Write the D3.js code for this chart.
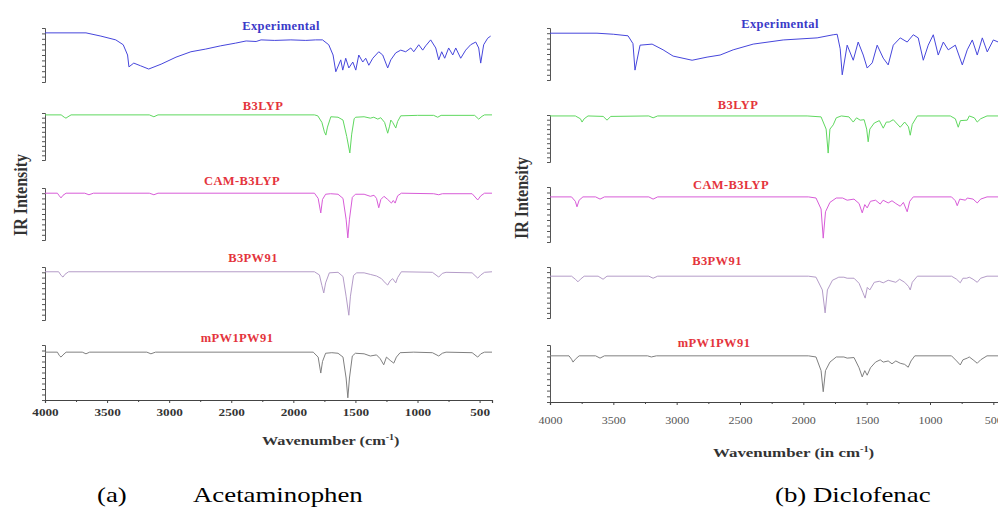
<!DOCTYPE html>
<html>
<head>
<meta charset="utf-8">
<script src="https://cdn.jsdelivr.net/npm/d3@7"></script>
<style>
  body { margin: 0; background: #fff; }
  svg { display: block; }
  text { font-family: "Liberation Serif", "Times New Roman", Tinos, Times, "DejaVu Serif", serif; }
</style>
</head>
<body>
<svg width="998" height="508"></svg>
<script>
// methods shown in each stacked panel (top to bottom)
var methods = ["Experimental", "B3LYP", "CAM-B3LYP", "B3PW91", "mPW1PW91"];
var xTicks = [4000, 3500, 3000, 2500, 2000, 1500, 1000, 500];
var xMinor = [3750, 3250, 2750, 2250, 1750, 1250, 750];
var xDomain = [4000, 400];

// (a) Acetaminophen, [wavenumber, relative intensity]
var acetExp = [[4000,91],[3670,91],[3550,85],[3430,78],[3370,69],[3335,50],[3324,28],[3285,35],[3230,30],[3165,24],[3065,33],[2945,46],[2825,56],[2705,61],[2585,67],[2465,72],[2380,76],[2300,75],[2260,78],[2150,77],[2020,78],[1900,77],[1820,78],[1765,78],[1715,69],[1680,50],[1658,19],[1618,41],[1602,22],[1578,44],[1553,26],[1521,37],[1497,22],[1473,50],[1441,37],[1417,44],[1392,31],[1360,44],[1312,56],[1280,50],[1240,26],[1215,41],[1175,54],[1135,59],[1095,56],[1054,63],[1030,56],[990,69],[958,59],[934,67],[894,78],[853,63],[829,41],[805,56],[781,44],[749,63],[716,50],[692,63],[652,44],[612,59],[572,69],[531,74],[507,63],[491,35],[467,69],[435,81],[411,85]];
var acetB3LYP = [[4000,96],[3870,96],[3845,91],[3831,89],[3815,92],[3790,96],[3160,96],[3123,92],[3090,96],[1830,96],[1803,94],[1770,80],[1750,60],[1738,53],[1725,70],[1698,92],[1640,91],[1600,85],[1570,50],[1545,15],[1530,55],[1510,88],[1497,91],[1430,92],[1380,89],[1352,91],[1320,87],[1296,90],[1265,80],[1240,57],[1225,72],[1215,85],[1200,80],[1175,68],[1160,82],[1135,94],[1000,95],[870,95],[837,91],[810,95],[540,95],[507,87],[480,93],[460,96],[400,96]];
var acetCAM = [[4000,90],[3900,90],[3885,85],[3871,81],[3855,86],[3830,90],[3680,90],[3646,87],[3610,90],[3160,90],[3123,87],[3090,90],[1830,90],[1800,80],[1779,52],[1765,78],[1740,88],[1700,89],[1640,88],[1600,80],[1575,40],[1561,4],[1548,40],[1525,82],[1500,88],[1430,88],[1380,84],[1350,86],[1330,80],[1312,62],[1295,78],[1270,84],[1240,78],[1210,71],[1195,76],[1180,71],[1160,85],[1130,90],[870,89],[829,87],[800,89],[560,89],[515,77],[490,85],[460,90],[400,90]];
var acetB3PW91 = [[4000,91],[3890,91],[3870,84],[3855,81],[3840,86],[3810,91],[1830,91],[1790,85],[1770,65],[1755,51],[1740,70],[1710,89],[1640,90],[1600,82],[1575,45],[1553,9],[1540,45],[1515,84],[1490,89],[1430,89],[1380,86],[1330,83],[1290,78],[1260,70],[1240,66],[1220,74],[1200,78],[1175,70],[1160,80],[1130,91],[880,90],[829,81],[800,88],[770,90],[560,89],[515,79],[490,85],[460,90],[400,91]];
var acetMPW = [[4000,87],[3900,87],[3885,81],[3871,78],[3855,82],[3830,87],[3700,87],[3670,84],[3640,87],[3180,87],[3147,84],[3110,87],[1840,87],[1800,78],[1779,49],[1765,70],[1740,85],[1690,86],[1640,85],[1600,78],[1575,40],[1561,4],[1548,40],[1525,80],[1500,85],[1430,84],[1380,80],[1330,82],[1300,75],[1272,64],[1250,78],[1220,72],[1191,67],[1170,78],[1140,86],[1030,87],[880,86],[829,80],[800,85],[770,87],[560,86],[515,78],[490,84],[460,87],[400,87]];

// (b) Diclofenac
var dicloExp = [[4000,90],[3629,90],[3500,88],[3384,85],[3345,70],[3329,19],[3289,67],[3194,69],[3107,58],[3028,46],[2878,38],[2760,44],[2657,48],[2554,58],[2396,69],[2159,77],[1891,81],[1764,87],[1733,88],[1709,60],[1693,10],[1654,67],[1606,38],[1567,73],[1527,48],[1496,23],[1456,33],[1417,67],[1369,42],[1330,29],[1290,67],[1235,81],[1180,73],[1132,87],[1093,81],[1053,38],[1014,67],[974,87],[935,48],[895,73],[856,58],[800,67],[745,29],[706,58],[666,77],[627,48],[587,81],[548,54],[500,77],[461,73],[420,77]];
var dicloB3LYP = [[4000,98],[3800,98],[3760,92],[3747,85],[3730,92],[3700,98],[3580,97],[3550,89],[3520,97],[3220,98],[3186,94],[3150,98],[1970,98],[1860,96],[1820,70],[1804,19],[1790,70],[1764,79],[1740,94],[1700,98],[1640,96],[1606,85],[1580,94],[1551,89],[1520,90],[1500,70],[1488,43],[1475,70],[1440,83],[1400,88],[1369,72],[1345,85],[1322,85],[1290,90],[1235,74],[1200,85],[1170,75],[1156,57],[1140,80],[1100,98],[840,98],[800,92],[777,74],[760,88],[706,89],[690,98],[650,94],[627,85],[600,92],[550,98],[400,98]];
var dicloCAM = [[4000,82],[3830,82],[3800,74],[3787,64],[3770,76],[3740,82],[3640,82],[3605,78],[3570,82],[3220,82],[3186,78],[3150,82],[1960,82],[1900,80],[1860,60],[1843,7],[1825,55],[1790,72],[1740,80],[1690,80],[1654,76],[1600,78],[1560,70],[1535,53],[1515,68],[1496,62],[1470,74],[1430,76],[1393,69],[1370,76],[1330,71],[1300,75],[1270,70],[1235,65],[1210,72],[1180,55],[1160,74],[1132,82],[830,82],[800,75],[785,66],[765,78],[720,76],[706,80],[660,78],[627,71],[600,78],[550,82],[400,82]];
var dicloB3PW91 = [[4000,82],[3830,82],[3800,76],[3779,71],[3760,76],[3730,82],[3620,82],[3581,76],[3550,82],[3220,82],[3186,78],[3150,82],[1960,82],[1900,80],[1850,55],[1828,10],[1810,55],[1770,74],[1720,80],[1680,80],[1654,78],[1600,78],[1560,68],[1530,50],[1512,39],[1495,60],[1475,55],[1440,70],[1400,72],[1369,69],[1330,74],[1300,72],[1270,70],[1240,76],[1200,70],[1170,62],[1156,55],[1140,70],[1100,82],[830,82],[790,76],[761,69],[740,78],[710,78],[690,80],[660,76],[627,70],[600,78],[550,82],[400,82]];
var dicloMPW = [[4000,81],[3850,81],[3830,75],[3818,70],[3800,75],[3770,81],[3640,81],[3605,77],[3570,81],[3230,81],[3200,79],[3160,81],[1960,81],[1900,79],[1860,55],[1843,18],[1825,55],[1790,70],[1740,79],[1680,79],[1654,77],[1600,78],[1560,60],[1535,44],[1515,55],[1496,47],[1470,60],[1430,70],[1393,74],[1369,70],[1330,72],[1300,67],[1270,72],[1235,68],[1200,66],[1172,61],[1150,72],[1120,81],[830,81],[790,72],[761,65],[740,74],[706,77],[690,79],[660,74],[627,68],[600,74],[550,81],[400,81]];

var lineColors = ["#4646dc", "#5fd85f", "#d85cd8", "#b49cc8", "#808080"];
var labelColors = ["#3a3ac8", "#e4343c", "#e4343c", "#e4343c", "#e4343c"];
var serif = "'Liberation Serif', 'Times New Roman', Tinos, Times, 'DejaVu Serif', serif";

var svg = d3.select("svg");

// the source figure is stretched sideways, so its text is wide too
function wideText(parent, x, y, sx) {
    return parent.append("text")
        .attr("transform", "translate(" + x + "," + y + ") scale(" + sx + ",1)")
        .attr("font-family", serif);
}

function drawPanel(p) {
    var x = d3.scaleLinear().domain(xDomain).range(p.xRange);
    var g = svg.append("g");

    p.series.forEach(function(data, i) {
        var band = p.bands[i];
        var y = d3.scaleLinear().domain([0, 100]).range([band[1], band[0]]);

        g.append("g")
            .attr("transform", "translate(" + p.xRange[0] + ",0)")
            .call(d3.axisLeft(y).ticks(10).tickSize(3).tickFormat(""))
            .call(function(a) {
                a.select(".domain").attr("stroke", "#555");
                a.selectAll(".tick line").attr("stroke", "#555");
            });

        var line = d3.line()
            .x(function(d) { return x(d[0]); })
            .y(function(d) { return y(d[1]); });

        g.append("path")
            .datum(data)
            .attr("d", line)
            .attr("fill", "none")
            .attr("stroke", lineColors[i])
            .attr("stroke-width", 1);

        g.append("text")
            .attr("x", p.labelX[i])
            .attr("y", p.labelY[i])
            .attr("text-anchor", "middle")
            .attr("font-family", serif)
            .attr("font-size", 12.5)
            .attr("font-weight", "bold")
            .attr("letter-spacing", 0.4)
            .attr("fill", labelColors[i])
            .text(methods[i]);
    });

    // wavenumber axis
    var xa = g.append("g")
        .attr("transform", "translate(0," + p.axisY + ")")
        .call(d3.axisBottom(x).tickValues(xTicks).tickSize(3).tickPadding(p.tickPad).tickFormat(d3.format("d")));
    xa.select(".domain").attr("stroke", "#444").attr("stroke-width", 1.2);
    xa.selectAll(".tick line").attr("stroke", "#444");
    xa.selectAll(".tick text")
        .attr("transform", "scale(1.2,1)")
        .attr("font-family", serif)
        .attr("font-size", p.tickSize)
        .attr("font-weight", p.tickWeight)
        .attr("fill", p.tickColor);

    g.append("g")
        .attr("transform", "translate(0," + p.axisY + ")")
        .call(d3.axisBottom(x).tickValues(xMinor).tickSize(2).tickFormat(""))
        .call(function(a) {
            a.select(".domain").remove();
            a.selectAll(".tick line").attr("stroke", "#444");
        });

    var t = wideText(g, p.titleX, p.titleY, p.titleScale)
        .attr("font-size", 13)
        .attr("font-weight", "bold")
        .attr("fill", "#333");
    t.append("tspan").text(p.title);
    t.append("tspan").attr("dy", -5).attr("font-size", 8).text("-1");
    t.append("tspan").attr("dy", 5).text(")");

    g.append("text")
        .attr("transform", "translate(" + p.yTitleX + "," + p.yTitleY + ") scale(1.2,1) rotate(-90)")
        .attr("text-anchor", "middle")
        .attr("font-family", serif)
        .attr("font-size", 16)
        .attr("font-weight", "bold")
        .attr("fill", "#333")
        .text("IR Intensity");
}

drawPanel({
    xRange: [45, 492],
    axisY: 400,
    bands: [[28, 82], [113, 160], [188, 240], [267, 320], [345, 400]],
    series: [acetExp, acetB3LYP, acetCAM, acetB3PW91, acetMPW],
    labelX: [281, 263, 242, 253, 237],
    labelY: [30, 110, 185, 262, 342],
    tickPad: 5, tickSize: 11, tickWeight: "bold", tickColor: "#333",
    title: "Wavenumber (cm", titleX: 262, titleY: 445, titleScale: 1.25,
    yTitleX: 27, yTitleY: 195
});

drawPanel({
    xRange: [550, 1006],
    axisY: 402,
    bands: [[28, 80], [115, 162], [187, 242], [267, 318], [345, 402]],
    series: [dicloExp, dicloB3LYP, dicloCAM, dicloB3PW91, dicloMPW],
    labelX: [780, 738, 731, 717, 714],
    labelY: [28, 109, 189, 265, 347],
    tickPad: 12, tickSize: 10, tickWeight: "normal", tickColor: "#555",
    title: "Wavenumber (in cm", titleX: 713, titleY: 457, titleScale: 1.3,
    yTitleX: 528, yTitleY: 198
});

// figure captions
var captions = svg.append("g").attr("fill", "#000");
wideText(captions, 97, 502, 1.22).attr("font-size", 22).text("(a)");
wideText(captions, 193, 502, 1.22).attr("font-size", 22).text("Acetaminophen");
wideText(captions, 775, 502, 1.22).attr("font-size", 22).text("(b) Diclofenac");
</script>
</body>
</html>
